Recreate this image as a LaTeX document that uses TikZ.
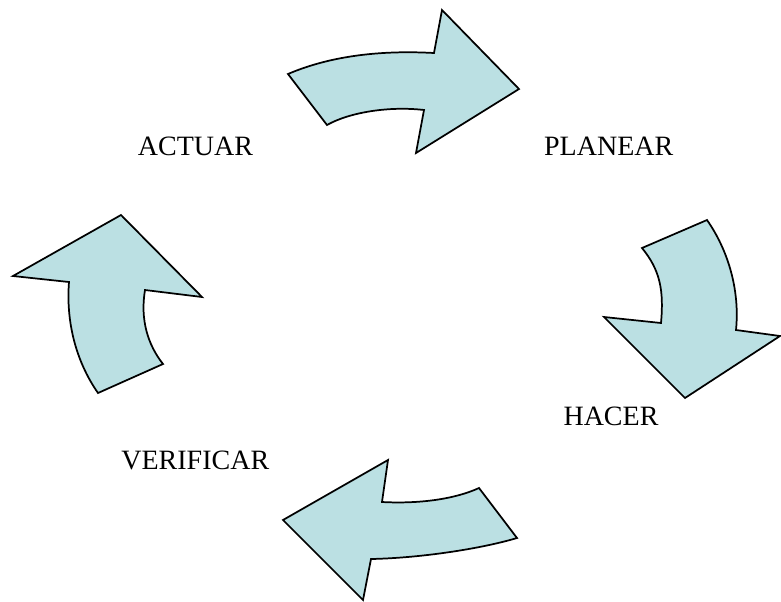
\documentclass[tikz,border=0pt]{standalone}
\usepackage{fontspec}
\setmainfont{Liberation Serif}
\definecolor{arrowfill}{RGB}{187,224,227}
\tikzset{every picture/.style={line width=0.75pt}}
\tikzset{bentarrow/.style={draw=black, fill=arrowfill, line width=1.3pt, line join=miter}}
\tikzset{steplabel/.style={inner sep=0.75pt, font=\fontsize{21}{25}\selectfont}}

\begin{document}
\begin{tikzpicture}[x=0.75pt,y=0.75pt,yscale=-1,xscale=1]
%set diagram left start at 0, and has height of 601
\useasboundingbox (0,0) rectangle (781,601);

%Shape: Curved Arrow [id:top]
\draw [bentarrow] (288,74) .. controls (330,56) and (380,50) .. (434,53) -- (442,10) -- (519,89) -- (416,153) -- (424,110) .. controls (390,106) and (350,112) .. (327,125) -- cycle ;
%Shape: Curved Arrow [id:right]
\draw [bentarrow] (642,248) -- (707,220) .. controls (728,250) and (740,290) .. (736,330) -- (780,336) -- (685,398) -- (604,317) -- (661,323) .. controls (664,290) and (660,270) .. (642,248) -- cycle ;
%Shape: Curved Arrow [id:bottom]
\draw [bentarrow] (479,488) -- (517,538) .. controls (480,549) and (420,558) .. (371,559) -- (363,600) -- (283,520) -- (388,460) -- (382,502) .. controls (420,504) and (455,499) .. (479,488) -- cycle ;
%Shape: Curved Arrow [id:left]
\draw [bentarrow] (98,393) .. controls (75,360) and (66,320) .. (69,282) -- (13,276) -- (121,215) -- (202,297) -- (145,290) .. controls (140,320) and (148,345) .. (163,364) -- cycle ;

% Text Node
\node [steplabel] (actuar) at (195.5,146) {ACTUAR};
% Text Node
\node [steplabel] (planear) at (608.7,146) {PLANEAR};
% Text Node
\node [steplabel] (hacer) at (611,416) {HACER};
% Text Node
\node [steplabel] (verificar) at (195.3,460.5) {VERIFICAR};

\end{tikzpicture}
\end{document}
